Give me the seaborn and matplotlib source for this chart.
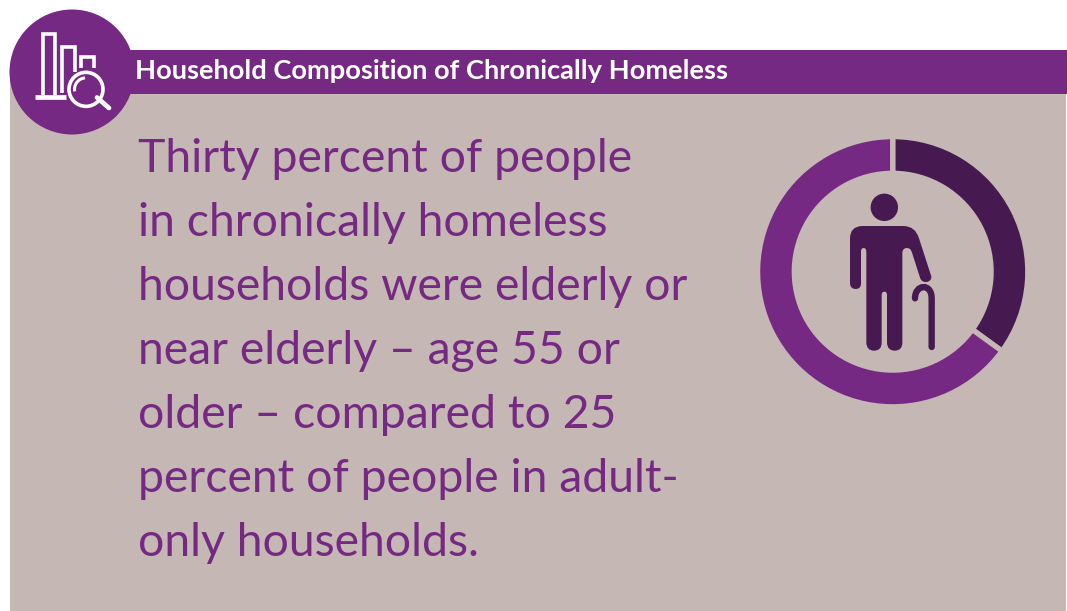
import matplotlib
matplotlib.use("Agg")
import matplotlib.pyplot as plt
from matplotlib.patches import Circle, PathPatch, Rectangle, Arc
from matplotlib.path import Path
import seaborn as sns

title = "Household Composition of Chronically Homeless"
body_lines = [
    "Thirty percent of people",
    "in chronically homeless",
    "households were elderly or",
    "near elderly \u2013 age 55 or",
    "older \u2013 compared to 25",
    "percent of people in adult-",
    "only households.",
]
share_labels = ["Elderly or near elderly", "Younger"]
share_values = [35, 65]

PURPLE = "#752983"
DARK = "#461A50"
PANEL = "#C5B7B4"

sns.set_theme(style="white")
plt.rcParams["font.family"] = ["Lato", "DejaVu Sans"]
palette = sns.color_palette([DARK, PURPLE])

W, H = 1067, 611
fig = plt.figure(figsize=(W / 100, H / 100), dpi=100, facecolor="white")
ax = fig.add_axes([0, 0, 1, 1])
ax.set_xlim(0, W)
ax.set_ylim(H, 0)
ax.axis("off")

# Panel, header band and badge
ax.add_patch(Rectangle((10, 72), 1056, H - 72, fc=PANEL, ec="none"))
ax.add_patch(Rectangle((72, 50), 995, 44, fc=PURPLE, ec="none"))
ax.add_patch(Circle((72, 72), 62.5, fc=PURPLE, ec="none"))

# Badge icon: bar chart under a magnifying glass
def badge(x, y):
    return x / 3, y / 3

icon = dict(color="white", lw=2.6, solid_capstyle="butt", solid_joinstyle="miter")
for xs, ys in [
    ([129, 129, 165, 165], [285, 103, 103, 285]),
    ([187, 187, 224, 224], [280, 142, 142, 215]),
    ([243, 243, 282, 282], [205, 170, 170, 205]),
]:
    ax.plot([x / 3 for x in xs], [y / 3 for y in ys], **icon)
ax.plot([34.5, 65.5], [96.7, 96.7], color="white", lw=3.4, solid_capstyle="butt")
ax.add_patch(Circle(badge(258, 268), 17, fc=PURPLE, ec="white", lw=2.6, zorder=3))
ax.plot([97, 109], [97.5, 108], color="white", lw=3.4, solid_capstyle="round", zorder=3)
ax.add_patch(Arc(badge(258, 268), 23, 23, theta1=170, theta2=265, ec="white", lw=2.2, zorder=4))

# Header and body copy
ax.text(135, 79, title, color="white", fontsize=19.6, fontweight="bold", va="baseline", ha="left")
for i, line in enumerate(body_lines):
    ax.text(138, 171.5 + i * 64, line, color=PURPLE, fontsize=33.4, va="baseline", ha="left")

# Share ring: the edge stroke eats into each wedge, so the radius allows for it
cx, cy, r, band, stroke = 892.7, 271.7, 132.5, 31.5, 2.6
outer = r + stroke
ring = fig.add_axes([(cx - outer) / W, 1 - (cy + outer) / H, 2 * outer / W, 2 * outer / H])
ring.patch.set_alpha(0)
ring.pie(
    share_values,
    colors=palette,
    startangle=90,
    counterclock=False,
    radius=1,
    wedgeprops=dict(width=(band + 2 * stroke) / outer, edgecolor=PANEL, linewidth=3.8),
)
ring.set_xlim(-1, 1)
ring.set_ylim(-1, 1)

# Figure with a cane, drawn inside the ring
def person(x, y):
    return 750 + x / 3, 130 + y / 3

ax.add_patch(Circle(person(403, 232), 13.7, fc=DARK, ec="none"))
M, L, Q = Path.MOVETO, Path.LINETO, Path.CURVE3
outline = [
    (M, (335, 288)), (Q, (300, 290)), (Q, (300, 325)),
    (L, (300, 460)), (Q, (301, 477)), (Q, (317, 477)), (Q, (333, 477)), (Q, (333, 460)),
    (L, (333, 365)), (Q, (333, 354)), (Q, (341, 354)), (Q, (349, 354)), (Q, (349, 365)),
    (L, (349, 638)), (Q, (350, 662)), (Q, (372, 662)), (Q, (395, 662)), (Q, (395, 638)),
    (L, (395, 495)), (Q, (395, 485)), (Q, (403, 485)), (Q, (411, 485)), (Q, (411, 495)),
    (L, (411, 638)), (Q, (412, 662)), (Q, (434, 662)), (Q, (457, 662)), (Q, (457, 638)),
    (L, (457, 368)), (Q, (458, 354)), (Q, (471, 354)), (Q, (482, 354)), (Q, (486, 368)),
    (L, (511, 446)), (Q, (517, 458)), (Q, (531, 456)), (Q, (548, 451)), (Q, (543, 436)),
    (L, (507, 325)), (Q, (496, 288)), (Q, (460, 288)),
    (Path.CLOSEPOLY, (335, 288)),
]
codes = [c for c, _ in outline]
verts = [person(*p) for _, p in outline]
ax.add_patch(PathPatch(Path(verts, codes), fc=DARK, ec="none"))

C4 = Path.CURVE4
cane_pts = [(545, 651), (545, 505), (545, 458), (495, 462), (495, 505)]
cane_codes = [M, L, C4, C4, C4]
ax.add_patch(PathPatch(
    Path([person(*p) for p in cane_pts], cane_codes),
    fc="none", ec=DARK, lw=4.6, capstyle="round",
))

fig.savefig("out.png", dpi=100, facecolor="white")
